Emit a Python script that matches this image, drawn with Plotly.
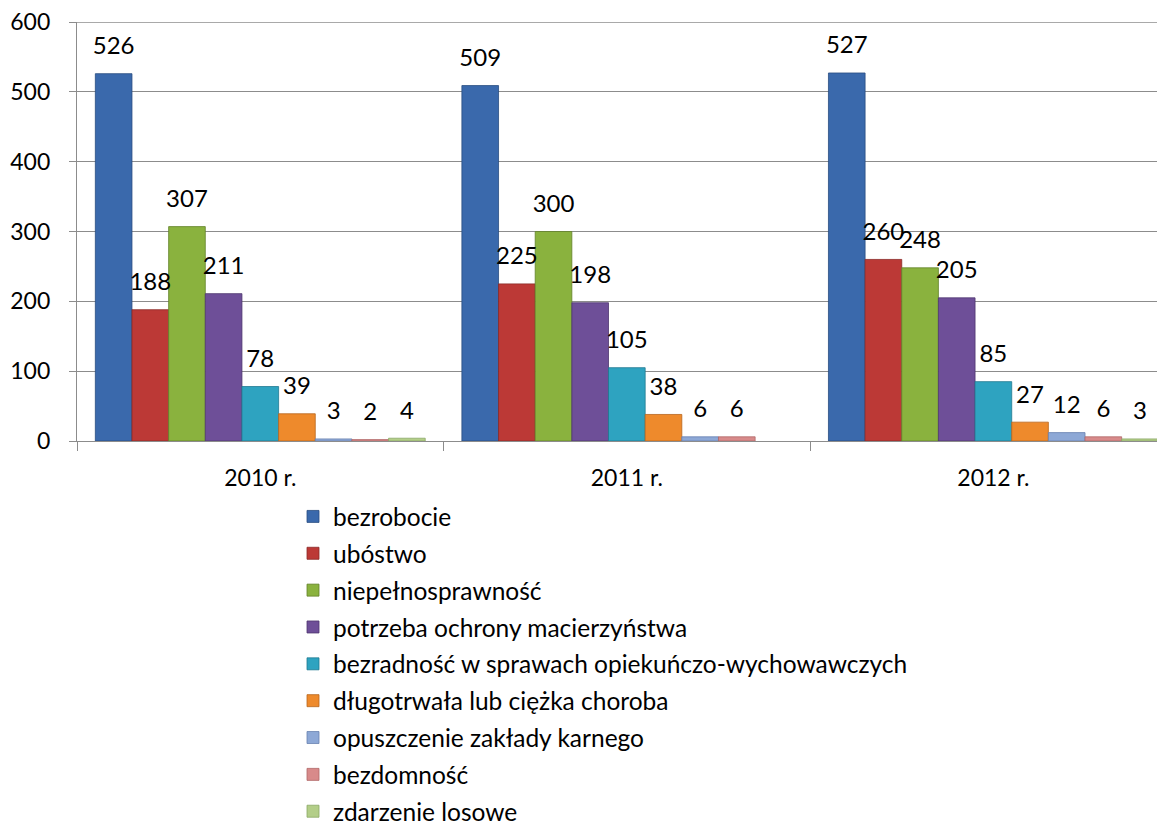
import plotly.graph_objects as go

categories = ["2010 r.", "2011 r.", "2012 r."]
series_names = [
    "bezrobocie",
    "ubóstwo",
    "niepełnosprawność",
    "potrzeba ochrony macierzyństwa",
    "bezradność w sprawach opiekuńczo-wychowawczych",
    "długotrwała lub ciężka choroba",
    "opuszczenie zakłady karnego",
    "bezdomność",
    "zdarzenie losowe",
]
bezrobocie = [526, 509, 527]
ubostwo = [188, 225, 260]
niepelnosprawnosc = [307, 300, 248]
macierzynstwo = [211, 198, 205]
bezradnosc = [78, 105, 85]
choroba = [39, 38, 27]
zaklad_karny = [3, 6, 12]
bezdomnosc = [2, 6, 6]
zdarzenie_losowe = [4, None, 3]
series_values = [bezrobocie, ubostwo, niepelnosprawnosc, macierzynstwo, bezradnosc,
                 choroba, zaklad_karny, bezdomnosc, zdarzenie_losowe]
y_ticks = [0, 100, 200, 300, 400, 500, 600]

colors = ["#3A69AC", "#BC3936", "#8AB23E", "#6E4F98", "#2EA3C0", "#EE8A2C",
          "#8DA8D6", "#D88A8A", "#B3CE88"]
edges = ["#284C80", "#8A2826", "#62822A", "#4E366E", "#1F7890", "#B8651C",
         "#6882B0", "#B06868", "#8AA866"]

FONT = "Lato, 'Open Sans', sans-serif"
GRID = "#8C8C8C"

fig = go.Figure()
for i, (name, vals) in enumerate(zip(series_names, series_values)):
    fig.add_trace(go.Bar(
        x=categories, y=vals, name=name,
        marker=dict(color=colors[i], line=dict(color=edges[i], width=0.8)),
        offsetgroup=str(i), alignmentgroup="a", legendgroup=str(i),
    ))
for i, (name, vals) in enumerate(zip(series_names, series_values)):
    fig.add_trace(go.Scatter(
        x=categories, y=vals, mode="markers+text",
        text=[("" if v is None else str(v)) for v in vals],
        textposition="top center",
        textfont=dict(size=24, color="#000000", family=FONT),
        marker=dict(size=20, opacity=0),
        offsetgroup=str(i), alignmentgroup="s",
        showlegend=False, hoverinfo="skip", cliponaxis=False,
    ))

# top gridline (plotly drops the gridline lying on the range edge)
fig.add_shape(type="line", xref="paper", yref="y", x0=0, x1=1,
              y0=y_ticks[-1], y1=y_ticks[-1], layer="below",
              line=dict(color=GRID, width=1.3))

plot_h = 419
fig.update_layout(
    width=1165, height=826,
    margin=dict(l=69, r=0, t=826 - 393 - plot_h, b=393, autoexpand=False),
    paper_bgcolor="white", plot_bgcolor="white",
    barmode="group", bargap=0.1, bargroupgap=0,
    scattermode="group", scattergap=0.1,
    font=dict(family=FONT, size=23, color="#000000"),
    showlegend=True,
    legend=dict(
        orientation="v", xref="paper", yref="paper",
        x=(285 - 69) / 1096, y=(433 - 486) / plot_h, xanchor="left", yanchor="top",
        font=dict(size=24.5, family=FONT, color="#000000"),
        tracegroupgap=2, bgcolor="rgba(0,0,0,0)",
    ),
)
fig.update_xaxes(
    type="category", range=[-0.5, 2.49],
    showline=True, linecolor=GRID, linewidth=1.3,
    ticks="outside", tickson="boundaries", ticklen=9, tickcolor=GRID, tickwidth=1.3,
    ticklabelstandoff=16, tickfont=dict(size=23, family=FONT),
    showgrid=False, zeroline=False,
)
fig.update_yaxes(
    range=[0, 600], tickvals=y_ticks, ticklabeloverflow="allow",
    showline=True, linecolor=GRID, linewidth=1.3,
    ticks="outside", ticklen=7, tickcolor=GRID, tickwidth=1.3,
    ticklabelstandoff=14, tickfont=dict(size=23, family=FONT),
    showgrid=True, gridcolor=GRID, gridwidth=1.3, zeroline=False,
)

fig.write_html("out.html")
